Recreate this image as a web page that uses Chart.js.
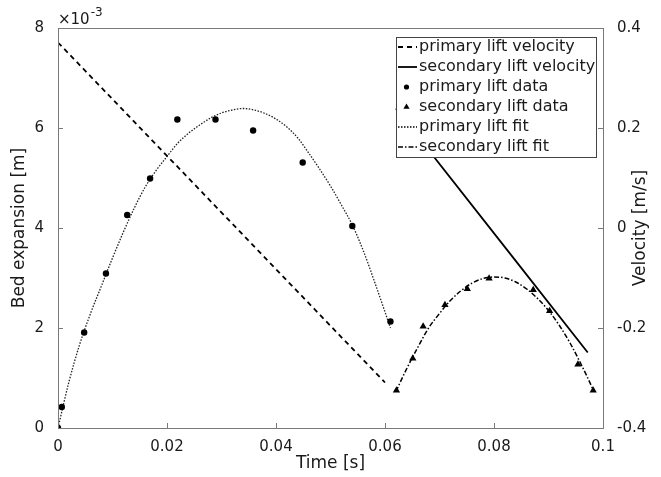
<!DOCTYPE html>
<html>
<head>
<meta charset="utf-8">
<script src="https://cdn.jsdelivr.net/npm/chart.js@4.4.0/dist/chart.umd.min.js"></script>
<style>
  html, body { margin: 0; padding: 0; background: #fff; }
  #wrap { width: 661px; height: 477px; }
</style>
</head>
<body>
<div id="wrap"><canvas id="bedChart" width="661" height="477"></canvas></div>
<script>
// --- data (time in s, expansion in m, velocity in m/s) ---
const primaryVelT = [0, 0.0600];
const primaryVel = [0.371, -0.309];

const secondaryVelT = [0.0620, 0.0972];
const secondaryVel = [0.239, -0.249];

const primaryDataT = [0, 0.0007, 0.0048, 0.0088, 0.0127, 0.0169, 0.0219, 0.0289, 0.0358, 0.0449, 0.0540, 0.0610];
const primaryDataY = [0, 0.42e-3, 1.91e-3, 3.09e-3, 4.26e-3, 4.99e-3, 6.17e-3, 6.17e-3, 5.95e-3, 5.31e-3, 4.04e-3, 2.13e-3];

const secondaryDataT = [0.0621, 0.0651, 0.0670, 0.0710, 0.0751, 0.0791, 0.0872, 0.0902, 0.0954, 0.0982];
const secondaryDataY = [0.75e-3, 1.39e-3, 2.03e-3, 2.46e-3, 2.78e-3, 2.99e-3, 2.76e-3, 2.34e-3, 1.27e-3, 0.75e-3];

const primaryFitT = [0, 0.002, 0.004, 0.006, 0.008, 0.010, 0.012, 0.014, 0.016, 0.018, 0.020,
  0.022, 0.024, 0.026, 0.028, 0.030, 0.032, 0.034, 0.036, 0.038, 0.040,
  0.042, 0.044, 0.046, 0.048, 0.050, 0.052, 0.054, 0.056, 0.058, 0.060, 0.061];
const primaryFitY = [0, 0.92e-3, 1.68e-3, 2.30e-3, 2.85e-3, 3.40e-3, 3.92e-3, 4.40e-3, 4.82e-3, 5.15e-3, 5.43e-3,
  5.70e-3, 5.90e-3, 6.06e-3, 6.20e-3, 6.30e-3, 6.36e-3, 6.39e-3, 6.36e-3, 6.29e-3, 6.18e-3,
  6.02e-3, 5.80e-3, 5.50e-3, 5.18e-3, 4.84e-3, 4.46e-3, 4.06e-3, 3.55e-3, 2.95e-3, 2.32e-3, 2.00e-3];

const secondaryFitT = [0.062, 0.064, 0.066, 0.068, 0.070, 0.072, 0.074, 0.076, 0.078, 0.080,
  0.082, 0.084, 0.086, 0.088, 0.090, 0.092, 0.094, 0.096, 0.098, 0.0983];
const secondaryFitY = [0.73e-3, 1.19e-3, 1.61e-3, 2.00e-3, 2.29e-3, 2.55e-3, 2.75e-3, 2.90e-3, 2.99e-3, 3.02e-3,
  3.00e-3, 2.92e-3, 2.78e-3, 2.59e-3, 2.35e-3, 2.05e-3, 1.69e-3, 1.27e-3, 0.81e-3, 0.73e-3];

const timeTicks = [0, 0.02, 0.04, 0.06, 0.08, 0.1];
const legendLabels = ['primary lift velocity', 'secondary lift velocity', 'primary lift data',
  'secondary lift data', 'primary lift fit', 'secondary lift fit'];

function pairs(xs, ys) {
  return xs.map((x, i) => ({ x: x, y: ys[i] }));
}

const AXIS_GREY = '#7a7a7a';
const TEXT_COL = '#1a1a1a';
const FONT = '"DejaVu Sans", sans-serif';

Chart.defaults.font.family = FONT;
Chart.defaults.color = TEXT_COL;

// ----------------------------------------------------
// frame, inward ticks, right title, exponent, legend
// ----------------------------------------------------
const matlabLook = {
  id: 'matlabLook',
  afterDraw(chart) {
    const ctx = chart.ctx;
    const a = chart.chartArea;
    const sx = chart.scales.x, sy = chart.scales.y, sv = chart.scales.y1;
    ctx.save();

    // frame
    ctx.strokeStyle = AXIS_GREY;
    ctx.lineWidth = 1;
    ctx.strokeRect(Math.round(a.left) + 0.5, Math.round(a.top) + 0.5,
      Math.round(a.right - a.left), Math.round(a.bottom - a.top));

    // inward tick marks
    ctx.beginPath();
    sx.ticks.forEach(t => {
      const px = Math.round(sx.getPixelForValue(t.value)) + 0.5;
      ctx.moveTo(px, a.bottom); ctx.lineTo(px, a.bottom - 5);
    });
    sy.ticks.forEach(t => {
      const py = Math.round(sy.getPixelForValue(t.value)) + 0.5;
      ctx.moveTo(a.left, py); ctx.lineTo(a.left + 5, py);
    });
    sv.ticks.forEach(t => {
      const py = Math.round(sv.getPixelForValue(t.value)) + 0.5;
      ctx.moveTo(a.right, py); ctx.lineTo(a.right - 5, py);
    });
    ctx.stroke();

    // x10^-3 exponent
    ctx.fillStyle = TEXT_COL;
    ctx.textBaseline = 'alphabetic';
    ctx.textAlign = 'left';
    ctx.font = '15px ' + FONT;
    ctx.fillText('\u00d710', a.left, 24);
    const w = ctx.measureText('\u00d710').width;
    ctx.font = '12px ' + FONT;
    ctx.fillText('-3', a.left + w + 1, 16);

    // right axis title (reads bottom to top)
    ctx.save();
    ctx.translate(641, (a.top + a.bottom) / 2);
    ctx.rotate(-Math.PI / 2);
    ctx.font = '17px ' + FONT;
    ctx.textAlign = 'center';
    ctx.textBaseline = 'middle';
    ctx.fillText('Velocity [m/s]', 0, 0);
    ctx.restore();

    // legend box (opaque, like matlab)
    const lx = 396, ly = 37, lw = 200, lh = 120;
    ctx.fillStyle = '#fff';
    ctx.fillRect(lx, ly, lw, lh);
    ctx.strokeStyle = '#444';
    ctx.strokeRect(lx + 0.5, ly + 0.5, lw, lh);

    chart.data.datasets.forEach((ds, i) => {
      const y = 47 + i * 20;
      ctx.strokeStyle = '#000';
      ctx.fillStyle = '#000';
      if (ds.showLine) {
        ctx.beginPath();
        ctx.setLineDash(ds.borderDash || []);
        ctx.lineWidth = ds.borderWidth;
        ctx.moveTo(398, y); ctx.lineTo(417, y);
        ctx.stroke();
        ctx.setLineDash([]);
      } else if (ds.pointStyle === 'triangle') {
        const r = ds.pointRadius - 0.6;
        ctx.beginPath();
        ctx.moveTo(406.5, y - r);
        ctx.lineTo(406.5 + r * 0.866, y + r / 2);
        ctx.lineTo(406.5 - r * 0.866, y + r / 2);
        ctx.closePath();
        ctx.fill();
      } else {
        ctx.beginPath();
        ctx.arc(406.5, y, ds.pointRadius - 0.6, 0, Math.PI * 2);
        ctx.fill();
      }
      ctx.fillStyle = TEXT_COL;
      ctx.font = '16px ' + FONT;
      ctx.textAlign = 'left';
      ctx.textBaseline = 'middle';
      ctx.fillText(ds.label, 419, y);
    });

    ctx.restore();
  }
};

const lineSet = (label, data, axis, dash, width, color) => ({
  label: label,
  data: data,
  yAxisID: axis,
  showLine: true,
  borderColor: color,
  backgroundColor: color,
  borderWidth: width,
  borderDash: dash,
  pointRadius: 0,
  fill: false,
  tension: 0.4,
  cubicInterpolationMode: 'monotone'
});

const pointSet = (label, data, style, radius) => ({
  label: label,
  data: data,
  yAxisID: 'y',
  showLine: false,
  pointStyle: style,
  pointRadius: radius,
  pointBackgroundColor: '#000',
  pointBorderColor: '#000',
  pointBorderWidth: 0,
  backgroundColor: '#000',
  borderColor: '#000'
});

new Chart(document.getElementById('bedChart'), {
  type: 'scatter',
  data: {
    datasets: [
      lineSet(legendLabels[0], pairs(primaryVelT, primaryVel), 'y1', [5, 4], 1.8, '#000'),
      lineSet(legendLabels[1], pairs(secondaryVelT, secondaryVel), 'y1', [], 1.8, '#000'),
      pointSet(legendLabels[2], pairs(primaryDataT, primaryDataY), 'circle', 3.2),
      pointSet(legendLabels[3], pairs(secondaryDataT, secondaryDataY), 'triangle', 4.2),
      lineSet(legendLabels[4], pairs(primaryFitT, primaryFitY), 'y', [1.5, 1.5], 1.3, '#222'),
      lineSet(legendLabels[5], pairs(secondaryFitT, secondaryFitY), 'y', [5, 2, 1.5, 2], 1.5, '#000')
    ]
  },
  options: {
    responsive: false,
    animation: false,
    events: [],
    layout: { padding: { top: 28, left: 0, right: 0, bottom: 0 } },
    plugins: { legend: { display: false }, tooltip: { enabled: false } },
    scales: {
      x: {
        type: 'linear',
        min: 0, max: 0.1,
        afterFit: s => { s.height = 49; },
        afterBuildTicks: s => { s.ticks = timeTicks.map(v => ({ value: v })); },
        grid: { display: false },
        border: { display: false },
        ticks: {
          padding: 2,
          font: { size: 15 },
          color: TEXT_COL,
          maxRotation: 0,
          callback: v => String(+v.toFixed(2))
        },
        title: { display: true, text: 'Time [s]', font: { size: 17 }, color: TEXT_COL, padding: { top: 0, bottom: 3 } }
      },
      y: {
        position: 'left',
        min: 0, max: 0.008,
        afterFit: s => { s.width = 58; },
        grid: { display: false },
        border: { display: false },
        ticks: {
          stepSize: 0.002,
          padding: 6,
          font: { size: 15 },
          color: TEXT_COL,
          callback: v => String(Math.round(v * 1000))
        },
        title: { display: true, text: 'Bed expansion [m]', font: { size: 17 }, color: TEXT_COL, padding: { top: 9, bottom: 0 } }
      },
      y1: {
        position: 'right',
        min: -0.4, max: 0.4,
        afterFit: s => { s.width = 58; },
        grid: { display: false },
        border: { display: false },
        ticks: {
          stepSize: 0.2,
          padding: 6,
          font: { size: 15 },
          color: TEXT_COL,
          callback: v => String(+v.toFixed(1))
        }
      }
    }
  },
  plugins: [matlabLook]
});
</script>
</body>
</html>
